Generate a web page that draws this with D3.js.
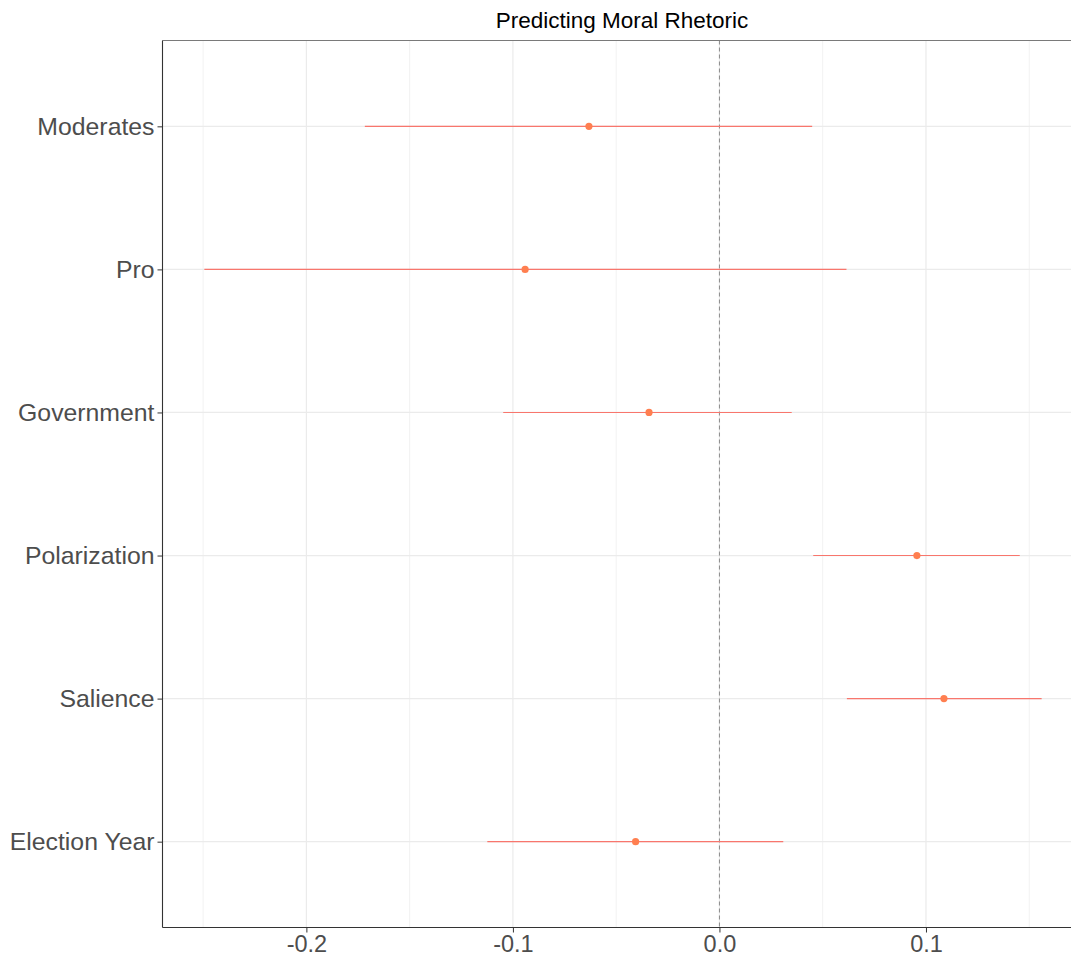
<!DOCTYPE html>
<html>
<head>
<meta charset="utf-8">
<script src="https://cdn.jsdelivr.net/npm/d3@7"></script>
<style>
  html, body { margin: 0; padding: 0; background: #fff; }
  svg { display: block; font-family: "Liberation Sans", Arial, sans-serif; }
</style>
</head>
<body>
<svg id="chart" width="1071" height="963"></svg>
<script>
// Coefficient estimates with their confidence intervals
const predictors = ["Moderates", "Pro", "Government", "Polarization", "Salience", "Election Year"];
const estimates  = [-0.0632, -0.0941, -0.0341, 0.0956, 0.1087, -0.0406];
const lowerCI    = [-0.1717, -0.2494, -0.1047, 0.0454, 0.0617, -0.1124];
const upperCI    = [ 0.0449,  0.0615,  0.0350, 0.1454, 0.1560,  0.0309];
const xTicks     = [-0.2, -0.1, 0.0, 0.1];
const xMinorTicks = [-0.25, -0.15, -0.05, 0.05, 0.15];

const rows = predictors.map((p, i) => ({
  name: p, est: estimates[i], lo: lowerCI[i], hi: upperCI[i]
}));

const svg = d3.select("#chart");
const panel = { left: 162.5, top: 40.5, right: 1083.5, bottom: 927.5 };

// x: 5% padding around the interval range
const xmin = d3.min(lowerCI), xmax = d3.max(upperCI);
const pad = (xmax - xmin) * 0.05;
const x = d3.scaleLinear().domain([xmin - pad, xmax + pad]).range([panel.left, panel.right]);

// y: discrete categories with 0.6 unit padding at each end
const y = d3.scalePoint().domain(predictors).range([panel.top, panel.bottom]).padding(0.6);

const g = svg.append("g");

// Minor and major grid lines
g.selectAll("line.minor").data(xMinorTicks).join("line")
  .attr("x1", d => x(d)).attr("x2", d => x(d))
  .attr("y1", panel.top).attr("y2", panel.bottom)
  .attr("stroke", "#f2f2f2").attr("stroke-width", 1);
g.selectAll("line.major").data(xTicks).join("line")
  .attr("x1", d => x(d)).attr("x2", d => x(d))
  .attr("y1", panel.top).attr("y2", panel.bottom)
  .attr("stroke", "#ebebeb").attr("stroke-width", 1.2);
g.selectAll("line.hgrid").data(predictors).join("line")
  .attr("x1", panel.left).attr("x2", panel.right)
  .attr("y1", d => y(d)).attr("y2", d => y(d))
  .attr("stroke", "#ebebeb").attr("stroke-width", 1.2);

// Reference line at zero
g.append("line")
  .attr("x1", x(0)).attr("x2", x(0))
  .attr("y1", panel.top).attr("y2", panel.bottom)
  .attr("stroke", "#8c8c8c").attr("stroke-width", 1)
  .attr("stroke-dasharray", "4,3");

// Confidence intervals
g.selectAll("line.ci").data(rows).join("line")
  .attr("x1", d => x(d.lo)).attr("x2", d => x(d.hi))
  .attr("y1", d => y(d.name)).attr("y2", d => y(d.name))
  .attr("stroke", "#f8766d").attr("stroke-width", 1.1);

// Point estimates
g.selectAll("circle.pt").data(rows).join("circle")
  .attr("cx", d => x(d.est)).attr("cy", d => y(d.name))
  .attr("r", 3.6).attr("fill", "#ff7f50");

// Panel border
g.append("line").attr("x1", panel.left).attr("x2", panel.right)
  .attr("y1", panel.top).attr("y2", panel.top).attr("stroke", "#7a7a7a").attr("stroke-width", 1);
g.append("line").attr("x1", panel.left).attr("x2", panel.left)
  .attr("y1", panel.top).attr("y2", panel.bottom).attr("stroke", "#333").attr("stroke-width", 1.1);

// Axes
const xAxis = d3.axisBottom(x).tickValues(xTicks).tickFormat(d3.format(".1f")).tickSize(5).tickPadding(3);
const xg = svg.append("g").attr("transform", `translate(0,${panel.bottom})`).call(xAxis);
xg.select(".domain").attr("stroke", "#333").attr("stroke-width", 1.1)
  .attr("d", `M${panel.left},0H${panel.right}`);
xg.selectAll(".tick line").attr("stroke", "#333");
xg.selectAll(".tick text").attr("fill", "#4d4d4d").attr("font-size", 23.5)
  .attr("font-family", "Liberation Sans, Arial, sans-serif")
  .text(d => d3.format(".1f")(d).replace("−", "-"));

const yAxis = d3.axisLeft(y).tickSize(5).tickPadding(3);
const yg = svg.append("g").attr("transform", `translate(${panel.left},0)`).call(yAxis);
yg.select(".domain").remove();
yg.selectAll(".tick line").attr("stroke", "#333");
yg.selectAll(".tick text").attr("fill", "#4d4d4d").attr("font-size", 24.8)
  .attr("font-family", "Liberation Sans, Arial, sans-serif");

// Title
svg.append("text")
  .attr("x", 622).attr("y", 28)
  .attr("text-anchor", "middle")
  .attr("font-size", 22.5).attr("fill", "#000")
  .text("Predicting Moral Rhetoric");
</script>
</body>
</html>
